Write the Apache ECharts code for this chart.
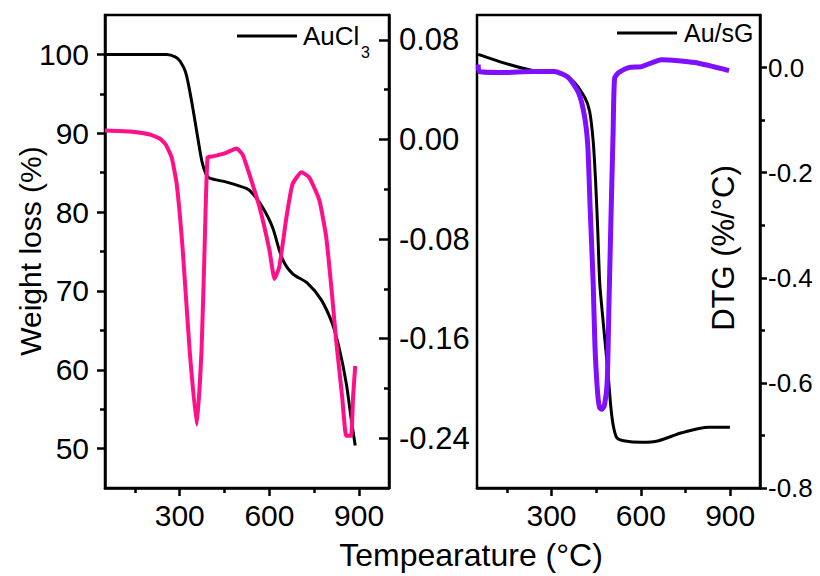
<!DOCTYPE html>
<html>
<head>
<meta charset="utf-8">
<script src="https://cdn.jsdelivr.net/npm/echarts@6/dist/echarts.min.js"></script>
<style>html,body{margin:0;padding:0;background:#fff}#c{width:820px;height:576px}</style>
</head>
<body>
<div id="c"></div>
<script>
// ---- data ----
const tempAuCl3   = [50, 150, 257, 285, 300, 320, 340, 360, 375, 388, 400, 457, 523, 543, 577, 610, 643, 677, 727, 773, 810, 833, 857, 873, 887];
const weightAuCl3 = [100, 100, 100, 99.7, 99.2, 97.7, 94.0, 89.5, 86.3, 84.8, 84.3, 83.8, 83.0, 82.4, 80.6, 78.1, 74.1, 72.2, 71.0, 68.9, 65.9, 62.8, 58.3, 53.9, 50.4];

const tempDtgAuCl3 = [50, 133, 200, 233, 253, 273, 290, 310, 333, 357, 373, 383, 393, 410, 450, 490, 510, 533, 567, 600, 617, 633, 657, 677, 707, 733, 767, 790, 810, 823, 843, 857, 873, 880, 887];
const dtgAuCl3     = [0.0072, 0.0064, 0.004, 0.0008, -0.004, -0.0144, -0.036, -0.0888, -0.169, -0.229, -0.169, -0.0888, -0.0144, -0.0136, -0.0112, -0.0072, -0.012, -0.028, -0.0544, -0.0888, -0.112, -0.1024, -0.0624, -0.036, -0.0264, -0.0304, -0.0488, -0.0784, -0.126, -0.161, -0.206, -0.238, -0.238, -0.206, -0.182];

const tempAuSG   = [54, 142, 233, 310, 367, 411, 428, 440, 448, 455, 462, 470, 480, 491, 500, 508, 519, 542, 603, 660, 737, 828, 899];
const weightAuSG = [100, 98.9, 98.0, 97.8, 96.8, 94.6, 92.8, 89, 84, 78, 71, 67.5, 63.5, 59, 55, 52.8, 51.4, 51.0, 50.8, 51.0, 52.0, 52.7, 52.7];

const tempDtgAuSG = [54, 58, 142, 233, 310, 357, 391, 411, 422, 430, 440, 446, 455, 462, 470, 478, 487, 493, 500, 507, 512, 526, 559, 603, 670, 781, 896];
const dtgAuSG     = [0.0057, -0.0076, -0.0095, -0.0076, -0.0076, -0.019, -0.048, -0.093, -0.15, -0.27, -0.41, -0.53, -0.62, -0.648, -0.65, -0.642, -0.60, -0.45, -0.28, -0.12, -0.02, -0.0095, 0, 0.0019, 0.015, 0.0095, -0.0057];

const xTickMajor = [300, 600, 900];
const xTickMinor = [150, 450, 750];
const weightTicks = [50, 60, 70, 80, 90, 100];
const weightMinor = [55, 65, 75, 85, 95];
const dtgLeftTicks = [0.08, 0, -0.08, -0.16, -0.24];
const dtgLeftMinor = [0.04, -0.04, -0.12, -0.2];
const dtgRightTicks = [0, -0.2, -0.4, -0.6, -0.8];
const dtgRightMinor = [-0.1, -0.3, -0.5, -0.7];

const legendLeft = 'AuCl';
const legendLeftSub = '3';
const legendRight = 'Au/sG';
const titleX = 'Tempearature (°C)';
const titleYLeft = 'Weight loss (%)';
const titleYRight = 'DTG (%/°C)';

// ---- build ----
const FONT = '"Liberation Sans", Arial, sans-serif';
const pairs = (xs, ys) => xs.map((x, i) => [x, ys[i]]);
const line = { show: true, lineStyle: { color: '#000', width: 2.5 } };
const noLine = { show: false };

function xAx(grid, ticks, len, labels) {
  return {
    type: 'value', gridIndex: grid, min: 50, max: 1000, position: 'bottom',
    axisLine: Object.assign({ onZero: false }, labels ? line : noLine),
    axisTick: { show: true, customValues: ticks, length: len, lineStyle: { color: '#000', width: 2.5 } },
    axisLabel: labels ? { show: true, customValues: ticks, color: '#000', fontSize: 30, fontFamily: FONT, margin: 12 } : { show: false },
    splitLine: { show: false }
  };
}
function yAx(grid, pos, min, max, ticks, len, inside, labels, fmt, fs, margin) {
  return {
    type: 'value', gridIndex: grid, position: pos, min: min, max: max,
    axisLine: Object.assign({ onZero: false }, labels ? line : noLine),
    axisTick: { show: true, inside: inside, customValues: ticks, length: len, lineStyle: { color: '#000', width: 2.5 } },
    axisLabel: labels ? { show: true, customValues: ticks, color: '#000', fontSize: fs, fontFamily: FONT, margin: margin, formatter: fmt } : { show: false },
    splitLine: { show: false }
  };
}

const chart = echarts.init(document.getElementById('c'), null, { renderer: 'svg' });
chart.setOption({
  animation: false,
  backgroundColor: '#fff',
  grid: [
    { left: 105, top: 15, width: 284, height: 473, show: true, borderColor: '#000', borderWidth: 2.5, backgroundColor: 'transparent' },
    { left: 477, top: 15, width: 283, height: 473, show: true, borderColor: '#000', borderWidth: 2.5, backgroundColor: 'transparent' }
  ],
  xAxis: [
    xAx(0, xTickMajor, 8, true),
    xAx(0, xTickMinor, 5, false),
    xAx(1, xTickMajor, 8, true),
    xAx(1, xTickMinor, 5, false)
  ],
  yAxis: [
    yAx(0, 'left', 45, 105, weightTicks, 8, false, true, v => String(v), 30, 16),
    yAx(0, 'left', 45, 105, weightMinor, 5, false, false),
    yAx(0, 'right', -0.28, 0.10, dtgLeftTicks, 10, true, true, v => v.toFixed(2), 31, 10),
    yAx(0, 'right', -0.28, 0.10, dtgLeftMinor, 5, true, false),
    yAx(1, 'right', -0.8, 0.1, dtgRightTicks, 7, false, true, v => v.toFixed(1), 26, 8),
    yAx(1, 'right', -0.8, 0.1, dtgRightMinor, 5, false, false),
    { type: 'value', gridIndex: 1, position: 'left', min: 45, max: 105, show: false }
  ],
  series: [
    { type: 'line', name: 'AuCl3', xAxisIndex: 0, yAxisIndex: 0, data: pairs(tempAuCl3, weightAuCl3), smooth: 0.3, showSymbol: false, lineStyle: { color: '#000', width: 3 }, z: 2 },
    { type: 'line', name: 'DTG AuCl3', xAxisIndex: 0, yAxisIndex: 2, data: pairs(tempDtgAuCl3, dtgAuCl3), smooth: 0.15, showSymbol: false, lineStyle: { color: '#FF1089', width: 4 }, z: 3 },
    { type: 'line', name: 'Au/sG', xAxisIndex: 2, yAxisIndex: 6, data: pairs(tempAuSG, weightAuSG), smooth: 0.25, showSymbol: false, lineStyle: { color: '#000', width: 3 }, z: 2 },
    { type: 'line', name: 'DTG Au/sG', xAxisIndex: 2, yAxisIndex: 4, data: pairs(tempDtgAuSG, dtgAuSG), smooth: 0.2, showSymbol: false, lineStyle: { color: '#7F0FFF', width: 5 }, z: 3 }
  ],
  graphic: [
    { type: 'line', shape: { x1: 237, y1: 36, x2: 297, y2: 36 }, style: { stroke: '#000', lineWidth: 3 } },
    { type: 'text', x: 303, y: 36, style: { text: legendLeft, font: '26px ' + FONT, fill: '#000', textAlign: 'left', textVerticalAlign: 'middle', align: 'left', verticalAlign: 'middle' } },
    { type: 'text', x: 361, y: 52, style: { text: legendLeftSub, font: '16px ' + FONT, fill: '#000', textAlign: 'left', textVerticalAlign: 'middle', align: 'left', verticalAlign: 'middle' } },
    { type: 'line', shape: { x1: 617, y1: 33, x2: 677, y2: 33 }, style: { stroke: '#000', lineWidth: 3 } },
    { type: 'text', x: 684, y: 33, style: { text: legendRight, font: '25px ' + FONT, fill: '#000', textAlign: 'left', textVerticalAlign: 'middle', align: 'left', verticalAlign: 'middle' } },
    { type: 'text', x: 471, y: 555, style: { text: titleX, font: '32px ' + FONT, fill: '#000', textAlign: 'center', textVerticalAlign: 'middle', align: 'center', verticalAlign: 'middle' } },
    { type: 'text', x: 30, y: 251, rotation: Math.PI / 2, style: { text: titleYLeft, font: '30px ' + FONT, fill: '#000', textAlign: 'center', textVerticalAlign: 'middle', align: 'center', verticalAlign: 'middle' } },
    { type: 'text', x: 723, y: 248, rotation: Math.PI / 2, style: { text: titleYRight, font: '31px ' + FONT, fill: '#000', textAlign: 'center', textVerticalAlign: 'middle', align: 'center', verticalAlign: 'middle' } }
  ]
});
</script>
</body>
</html>
